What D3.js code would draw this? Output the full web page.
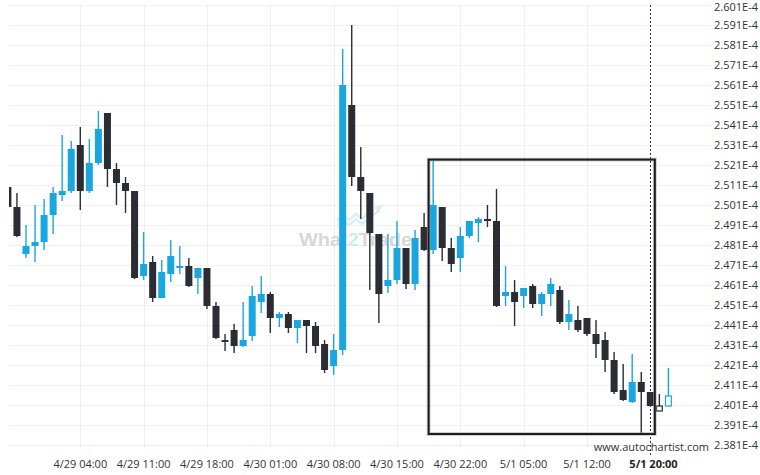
<!DOCTYPE html>
<html><head><meta charset="utf-8">
<script src="https://cdn.jsdelivr.net/npm/d3@7/dist/d3.min.js"></script>
<style>html,body{margin:0;padding:0;background:#fff;}svg{display:block;}</style>
</head><body>
<script>
// ---- data (prices in units of 1E-4) ----
const startTime = "2024-04-28 20:00"; // first hourly candle
const opens  = [2.5100,2.5000,2.4765,2.4805,2.4825,2.4960,2.5060,2.5080,2.5310,2.5080,2.5220,2.5470,2.5190,2.5120,2.5080,2.4655,2.4725,2.4545,2.4665,2.4695,2.4705,2.4645,2.4695,2.4505,2.4335,2.4385,2.4305,2.4355,2.4525,2.4565,2.4445,2.4465,2.4395,2.4435,2.4405,2.4315,2.4205,2.4285,2.5510,2.5150,2.5070,2.4865,2.4605,2.4635,2.4795,2.4615,2.4900,2.4785,2.5000,2.4795,2.4745,2.4855,2.4920,2.4940,2.4930,2.4555,2.4575,2.4555,2.4605,2.4515,2.4565,2.4585,2.4425,2.4435,2.4445,2.4365,2.4335,2.4235,2.4085,2.4025,2.4125,2.4075,2.4005,2.4005];
const highs  = [2.5105,2.5070,2.4910,2.5010,2.5040,2.5100,2.5360,2.5330,2.5400,2.5340,2.5480,2.5470,2.5220,2.5150,2.5080,2.4875,2.4755,2.4735,2.4835,2.4805,2.4745,2.4695,2.4695,2.4525,2.4365,2.4415,2.4525,2.4605,2.4655,2.4575,2.4475,2.4475,2.4435,2.4435,2.4425,2.4335,2.4365,2.5790,2.5910,2.5300,2.5070,2.4865,2.4865,2.4930,2.4795,2.4885,2.4970,2.5230,2.5000,2.4845,2.4900,2.4930,2.4950,2.5010,2.5090,2.4705,2.4635,2.4595,2.4615,2.4575,2.4645,2.4605,2.4535,2.4505,2.4445,2.4435,2.4375,2.4275,2.4215,2.4265,2.4175,2.4075,2.4065,2.4195];
const lows   = [2.5000,2.4850,2.4745,2.4725,2.4785,2.4865,2.5030,2.5070,2.4985,2.5070,2.5210,2.5100,2.5010,2.4970,2.4640,2.4635,2.4525,2.4545,2.4625,2.4665,2.4600,2.4565,2.4490,2.4340,2.4280,2.4270,2.4300,2.4330,2.4470,2.4370,2.4400,2.4370,2.4320,2.4270,2.4270,2.4170,2.4160,2.4260,2.5105,2.4940,2.4585,2.4420,2.4570,2.4615,2.4590,2.4585,2.4780,2.4765,2.4730,2.4675,2.4675,2.4845,2.4825,2.4900,2.4500,2.4505,2.4405,2.4495,2.4495,2.4455,2.4505,2.4415,2.4385,2.4375,2.4355,2.4245,2.4175,2.4065,2.4030,2.4020,2.3870,2.4005,2.3980,2.4005];
const closes = [2.5000,2.4855,2.4805,2.4825,2.4960,2.5070,2.5080,2.5290,2.5080,2.5220,2.5390,2.5190,2.5120,2.5080,2.4645,2.4715,2.4545,2.4675,2.4755,2.4705,2.4605,2.4695,2.4505,2.4345,2.4325,2.4305,2.4335,2.4555,2.4565,2.4445,2.4465,2.4395,2.4435,2.4405,2.4305,2.4185,2.4285,2.5610,2.5150,2.5080,2.4870,2.4565,2.4635,2.4795,2.4615,2.4845,2.4785,2.5010,2.4795,2.4715,2.4855,2.4930,2.4940,2.4930,2.4505,2.4575,2.4525,2.4595,2.4515,2.4565,2.4615,2.4425,2.4465,2.4385,2.4365,2.4315,2.4235,2.4075,2.4035,2.4125,2.4075,2.4005,2.3980,2.4055];
const liveCandles = 2; // last candles drawn hollow
const xTickTimes = ["2024-04-29 04:00","2024-04-29 11:00","2024-04-29 18:00","2024-04-30 01:00","2024-04-30 08:00","2024-04-30 15:00","2024-04-30 22:00","2024-05-01 05:00","2024-05-01 12:00"];
const yTicks = [2.381,2.391,2.401,2.411,2.421,2.431,2.441,2.451,2.461,2.471,2.481,2.491,2.501,2.511,2.521,2.531,2.541,2.551,2.561,2.571,2.581,2.591,2.601];
const markerTime = "2024-05-01 19:00";
const markerLabel = "5/1 20:00";
const patternBox = {start:"2024-04-30 18:30", end:"2024-05-01 19:30", top:2.5237, bottom:2.3865};
const yDomain = [2.381, 2.601];

// ---- setup ----
const W = 760, H = 475;
const parse = d3.timeParse("%Y-%m-%d %H:%M");
const fmtX = d3.timeFormat("%-m/%-d %H:%M");
const t0 = parse(startTime);
const candles = opens.map((o,i)=>({t:d3.timeHour.offset(t0,i), o, h:highs[i], l:lows[i], c:closes[i], live:i>=opens.length-liveCandles}));

const plotL = 9, plotR = 711, plotT = 5, plotB = 445;
const x = d3.scaleTime()
  .domain([candles[0].t, candles[candles.length-1].t])
  .range([7.9, 7.9 + (candles.length-1)*9.048]);
const y = d3.scaleLinear().domain(yDomain).range([plotB, plotT]);

const svg = d3.select("body").append("svg").attr("width",W).attr("height",H);
const FONT = "'Open Sans', 'Noto Sans', sans-serif";

// grid
const grid = svg.append("g");
grid.selectAll("line.h").data(yTicks).join("line")
  .attr("x1",plotL).attr("x2",plotR)
  .attr("y1",d=>Math.round(y(d))+0.5).attr("y2",d=>Math.round(y(d))+0.5)
  .attr("stroke","#f0f0f0").attr("stroke-width",1);
grid.selectAll("line.v").data(xTickTimes.map(parse)).join("line")
  .attr("x1",d=>Math.round(x(d))+0.5).attr("x2",d=>Math.round(x(d))+0.5)
  .attr("y1",plotT).attr("y2",plotB+2)
  .attr("stroke","#f0f0f0").attr("stroke-width",1);

// watermark
const wm = svg.append("g").attr("opacity",0.9);
wm.append("polyline").attr("points","337,221 343,215 349,220 356,214 362,219 368,213 374,210")
  .attr("fill","none").attr("stroke","#d3ecf8").attr("stroke-width",2.2);
wm.append("polyline").attr("points","337,226 343,220 349,225 356,219 362,224 370,217 379,211")
  .attr("fill","none").attr("stroke","#d3ecf8").attr("stroke-width",2.2);
wm.append("polygon").attr("points","374,207 383,205 379,213").attr("fill","#d3ecf8");
const wt = wm.append("text").attr("x",299).attr("y",246)
  .attr("font-family","'Liberation Sans', Arial, sans-serif").attr("font-weight","bold")
  .attr("font-size",19).attr("textLength",113).attr("lengthAdjust","spacingAndGlyphs");
wt.append("tspan").attr("fill","#d4d4d4").text("What");
wt.append("tspan").attr("fill","#cde8f6").text("2");
wt.append("tspan").attr("fill","#d4d4d4").text("Trade");

// candles
const BLUE = "#1aa7df", DARK = "#2b2c34";
svg.append("clipPath").attr("id","plotclip").append("rect")
  .attr("x",plotL).attr("y",0).attr("width",plotR-plotL).attr("height",H);
const cg = svg.append("g").attr("clip-path","url(#plotclip)");
const bw = 7;
const cs = cg.selectAll("g.c").data(candles).join("g");
cs.append("line")
  .attr("x1",d=>x(d.t)).attr("x2",d=>x(d.t))
  .attr("y1",d=>y(d.h)).attr("y2",d=>y(d.l))
  .attr("stroke",d=>d.c>=d.o?BLUE:DARK).attr("stroke-width",1.4);
cs.append("rect")
  .attr("x",d=>d.live? x(d.t)-bw/2+0.6 : x(d.t)-bw/2)
  .attr("width",d=>d.live? bw-1.2 : bw)
  .attr("y",d=>y(Math.max(d.o,d.c)))
  .attr("height",d=>Math.max(1.5, Math.abs(y(d.o)-y(d.c))))
  .attr("fill",d=>d.live?"#fff":(d.c>=d.o?BLUE:DARK))
  .attr("stroke",d=>d.live?(d.c>=d.o?BLUE:DARK):"none")
  .attr("stroke-width",1.2);

// pattern rectangle
const bx0 = x(parse(patternBox.start)), bx1 = x(parse(patternBox.end));
const by0 = y(patternBox.top), by1 = y(patternBox.bottom);
svg.append("rect").attr("x",bx0).attr("y",by0).attr("width",bx1-bx0).attr("height",by1-by0)
  .attr("fill","none").attr("stroke","#9a9a9a").attr("stroke-width",3.6).attr("opacity",0.6);
svg.append("rect").attr("x",bx0).attr("y",by0).attr("width",bx1-bx0).attr("height",by1-by0)
  .attr("fill","none").attr("stroke","#1e1e1e").attr("stroke-width",2);

// marker dashed line
const mx = Math.round(x(parse(markerTime)))+0.5;
svg.append("line").attr("x1",mx).attr("x2",mx).attr("y1",plotT).attr("y2",455)
  .attr("stroke","#163f4a").attr("stroke-width",1).attr("stroke-dasharray","2,2");

// y labels
svg.append("g").selectAll("text").data(yTicks).join("text")
  .attr("x",714).attr("y",d=>Math.max(y(d)+4, 11))
  .attr("font-family",FONT).attr("font-size",11).attr("fill","#333")
  .text(d=>d.toFixed(3)+"E-4");

// x labels
svg.append("g").selectAll("text").data(xTickTimes.map(parse)).join("text")
  .attr("x",d=>x(d)).attr("y",468).attr("text-anchor","middle")
  .attr("font-family",FONT).attr("font-size",11).attr("fill","#333")
  .text(d=>fmtX(d));
svg.append("text").attr("x",mx+3).attr("y",468).attr("text-anchor","middle")
  .attr("font-family",FONT).attr("font-size",11).attr("font-weight","bold").attr("fill","#222")
  .text(markerLabel);

// credit
svg.append("text").attr("x",709).attr("y",451).attr("text-anchor","end")
  .attr("font-family",FONT).attr("font-size",11).attr("fill","#333")
  .text("www.autochartist.com");
</script>
</body></html>
